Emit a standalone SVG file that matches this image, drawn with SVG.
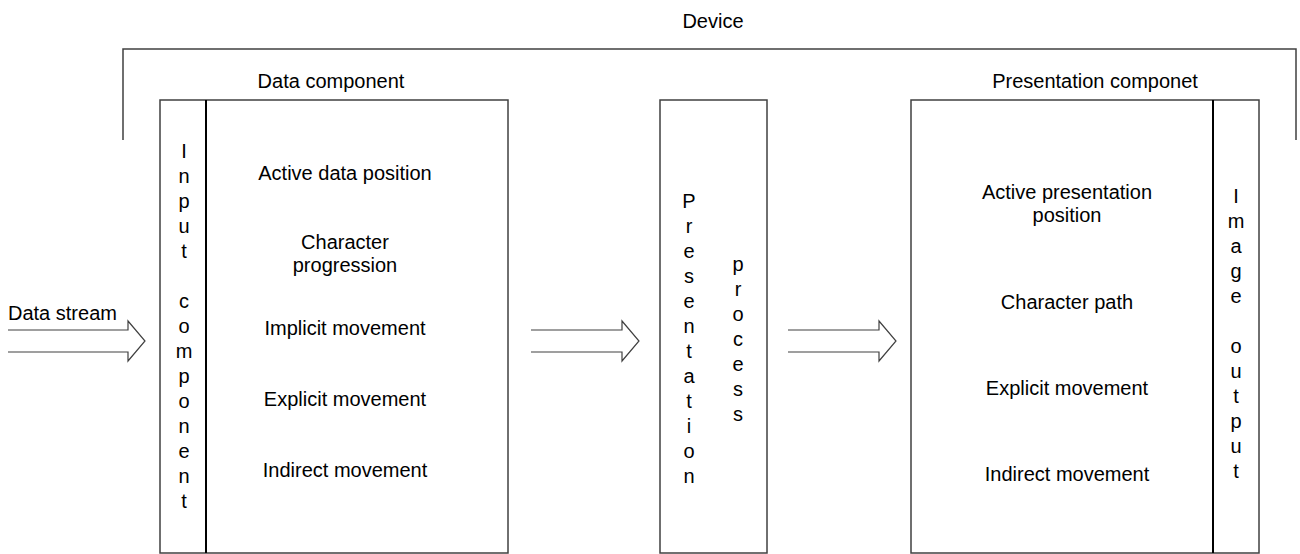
<svg xmlns="http://www.w3.org/2000/svg" width="1300" height="554" viewBox="0 0 1300 554">
<style>
text{font-family:"Liberation Sans",Arial,sans-serif;font-size:20px;fill:#000}
.c{text-anchor:middle}
.box{fill:#fff;stroke:#404040;stroke-width:1.5}
.div{stroke:#000;stroke-width:2}
.ln{fill:none;stroke:#404040;stroke-width:1.5}
.arr{fill:none;stroke:#404040;stroke-width:1.2}
</style>
<g id="device">
<path class="ln" d="M123 140 V49 H1296 V140"/>
<text class="c" x="713" y="28">Device</text>
</g>
<g id="data-component">
<text class="c" x="331" y="88">Data component</text>
<rect class="box" x="160" y="100" width="348" height="453"/>
<line class="div" x1="206" y1="100" x2="206" y2="553"/>
<text class="c" x="184" y="158">I<tspan x="184" dy="25">n</tspan><tspan x="184" dy="25">p</tspan><tspan x="184" dy="25">u</tspan><tspan x="184" dy="25">t</tspan><tspan x="184" dy="50">c</tspan><tspan x="184" dy="25">o</tspan><tspan x="184" dy="25">m</tspan><tspan x="184" dy="25">p</tspan><tspan x="184" dy="25">o</tspan><tspan x="184" dy="25">n</tspan><tspan x="184" dy="25">e</tspan><tspan x="184" dy="25">n</tspan><tspan x="184" dy="25">t</tspan></text>
<text class="c" x="345" y="180">Active data position</text>
<text class="c" x="345" y="249">Character<tspan x="345" dy="23">progression</tspan></text>
<text class="c" x="345" y="335">Implicit movement</text>
<text class="c" x="345" y="406">Explicit movement</text>
<text class="c" x="345" y="477">Indirect movement</text>
</g>
<g id="presentation-process">
<rect class="box" x="660" y="100" width="107" height="453"/>
<text class="c" x="689" y="208">P<tspan x="689" dy="25">r</tspan><tspan x="689" dy="25">e</tspan><tspan x="689" dy="25">s</tspan><tspan x="689" dy="25">e</tspan><tspan x="689" dy="25">n</tspan><tspan x="689" dy="25">t</tspan><tspan x="689" dy="25">a</tspan><tspan x="689" dy="25">t</tspan><tspan x="689" dy="25">i</tspan><tspan x="689" dy="25">o</tspan><tspan x="689" dy="25">n</tspan></text>
<text class="c" x="738" y="271">p<tspan x="738" dy="25">r</tspan><tspan x="738" dy="25">o</tspan><tspan x="738" dy="25">c</tspan><tspan x="738" dy="25">e</tspan><tspan x="738" dy="25">s</tspan><tspan x="738" dy="25">s</tspan></text>
</g>
<g id="presentation-component">
<text class="c" x="1095" y="88">Presentation componet</text>
<rect class="box" x="911" y="100" width="348" height="453"/>
<line class="div" x1="1213" y1="100" x2="1213" y2="553"/>
<text class="c" x="1067" y="199">Active presentation<tspan x="1067" dy="23">position</tspan></text>
<text class="c" x="1067" y="309">Character path</text>
<text class="c" x="1067" y="395">Explicit movement</text>
<text class="c" x="1067" y="481">Indirect movement</text>
<text class="c" x="1236" y="203">I<tspan x="1236" dy="25">m</tspan><tspan x="1236" dy="25">a</tspan><tspan x="1236" dy="25">g</tspan><tspan x="1236" dy="25">e</tspan><tspan x="1236" dy="50">o</tspan><tspan x="1236" dy="25">u</tspan><tspan x="1236" dy="25">t</tspan><tspan x="1236" dy="25">p</tspan><tspan x="1236" dy="25">u</tspan><tspan x="1236" dy="25">t</tspan></text>
</g>
<g id="connectors">
<text x="8" y="320">Data stream</text>
<path class="arr" d="M8 330 H128 V321 L145 341 L128 361 V352 H8"/>
<path class="arr" d="M531 330 H622 V321 L639 341 L622 361 V352 H531"/>
<path class="arr" d="M788 330 H879 V321 L896 341 L879 361 V352 H788"/>
</g>
</svg>
